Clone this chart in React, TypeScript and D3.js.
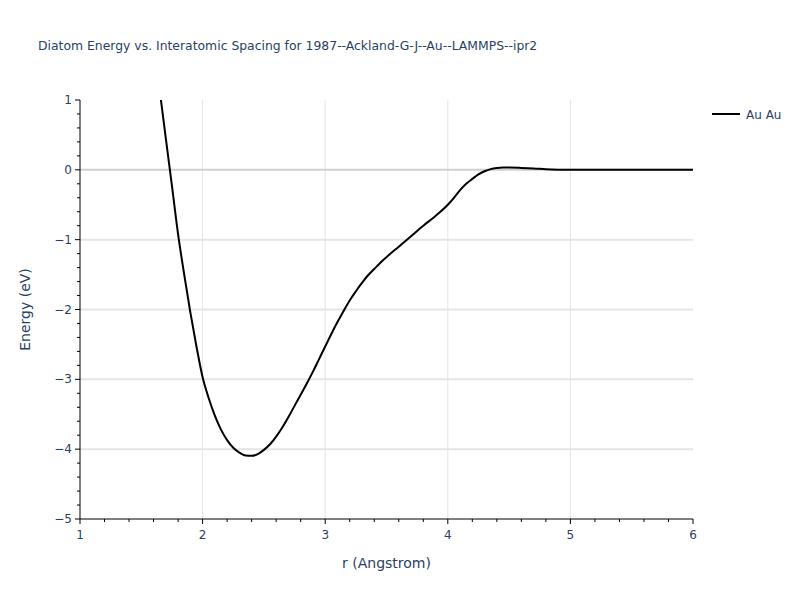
import React from 'react';
import * as d3 from 'd3';

// diatom curve
const rValues = [1.65, 1.7, 1.75, 1.8, 1.85, 1.9, 1.95, 2.0, 2.05, 2.1, 2.15, 2.2, 2.25, 2.3, 2.35, 2.4, 2.45, 2.5, 2.55, 2.6, 2.65, 2.7, 2.75, 2.8, 2.85, 2.9, 2.95, 3.0, 3.05, 3.1, 3.15, 3.2, 3.25, 3.3, 3.35, 3.4, 3.45, 3.5, 3.6, 3.7, 3.8, 3.9, 4.0, 4.05, 4.1, 4.15, 4.2, 4.25, 4.3, 4.35, 4.4, 4.45, 4.5, 4.6, 4.7, 4.8, 4.9, 5.0, 6.0];
const energyValues = [1.14, 0.45, -0.23, -0.92, -1.5, -2.04, -2.53, -2.97, -3.27, -3.52, -3.72, -3.87, -3.98, -4.05, -4.09, -4.095, -4.07, -4.01, -3.93, -3.82, -3.69, -3.54, -3.38, -3.22, -3.06, -2.89, -2.71, -2.53, -2.35, -2.18, -2.02, -1.87, -1.74, -1.62, -1.51, -1.42, -1.33, -1.25, -1.1, -0.95, -0.8, -0.66, -0.5, -0.4, -0.29, -0.2, -0.13, -0.065, -0.02, 0.01, 0.025, 0.032, 0.033, 0.028, 0.02, 0.008, 0.002, 0, 0];

const xTicks = [1, 2, 3, 4, 5, 6];
const yTicks = [-5, -4, -3, -2, -1, 0, 1];
const seriesName = 'Au Au';
const title = 'Diatom Energy vs. Interatomic Spacing for 1987--Ackland-G-J--Au--LAMMPS--ipr2';

const W = 800;
const H = 600;
const margin = {left: 80, right: 107, top: 100, bottom: 81};
const font = '"DejaVu Sans", verdana, arial, sans-serif';
const textColor = '#2a3f5f';

export default function App() {
  const x = d3.scaleLinear().domain([1, 6]).range([margin.left, W - margin.right]);
  const y = d3.scaleLinear().domain([-5, 1]).range([H - margin.bottom, margin.top]);

  const points = rValues.map((r, i) => [r, energyValues[i]] as [number, number]);
  const line = d3
    .line<[number, number]>()
    .x((d) => x(d[0]))
    .y((d) => y(d[1]))
    .curve(d3.curveMonotoneX);

  // minor ticks every 0.2
  const xMinor = d3.range(1, 6.001, 0.2).filter((v) => Math.abs(v - Math.round(v)) > 1e-6);
  const yMinor = d3.range(-5, 1.001, 0.2).filter((v) => Math.abs(v - Math.round(v)) > 1e-6);
  const fmt = d3.format('');

  const x0 = margin.left;
  const y0 = H - margin.bottom;
  const x1 = W - margin.right;

  return (
    <svg width={W} height={H} style={{display: 'block', position: 'absolute', left: 0, top: 0}} fontFamily={font}>
      <defs>
        <clipPath id="plot-clip">
          <rect x={x0} y={margin.top} width={x1 - x0} height={y0 - margin.top} />
        </clipPath>
      </defs>
      <rect width={W} height={H} fill="#fff" />
      <text x={38} y={50} fontSize={12.4} fill={textColor}>{title}</text>

      {/* grid */}
      {xTicks.filter((v) => v > 1 && v < 6).map((v) => (
        <line key={'gx' + v} x1={x(v)} x2={x(v)} y1={margin.top} y2={y0} stroke="#e5e5e5" />
      ))}
      {yTicks.filter((v) => v > -5 && v < 1 && v !== 0).map((v) => (
        <line key={'gy' + v} x1={x0} x2={x1} y1={y(v)} y2={y(v)} stroke="#e5e5e5" strokeWidth={2} />
      ))}
      <line x1={x0} x2={x1} y1={y(0)} y2={y(0)} stroke="#d0d0d0" strokeWidth={2} />

      {/* curve */}
      <path d={line(points) || ''} fill="none" stroke="#000" strokeWidth={2} clipPath="url(#plot-clip)" />

      {/* axes */}
      <line x1={x0} x2={x0} y1={margin.top} y2={y0} stroke="#000" />
      <line x1={x0} x2={x1} y1={y0} y2={y0} stroke="#000" />
      {xTicks.map((v) => (
        <g key={'xt' + v}>
          <line x1={x(v)} x2={x(v)} y1={y0} y2={y0 + 5} stroke="#000" />
          <text x={x(v)} y={y0 + 20} fontSize={12} fill={textColor} textAnchor="middle">{fmt(v)}</text>
        </g>
      ))}
      {xMinor.map((v) => (
        <line key={'xm' + v} x1={x(v)} x2={x(v)} y1={y0} y2={y0 + 3} stroke="#000" />
      ))}
      {yTicks.map((v) => (
        <g key={'yt' + v}>
          <line x1={x0 - 5} x2={x0} y1={y(v)} y2={y(v)} stroke="#000" />
          <text x={x0 - 8} y={y(v) + 4} fontSize={12} fill={textColor} textAnchor="end">{fmt(v)}</text>
        </g>
      ))}
      {yMinor.map((v) => (
        <line key={'ym' + v} x1={x0 - 3} x2={x0} y1={y(v)} y2={y(v)} stroke="#000" />
      ))}

      <text x={(x0 + x1) / 2} y={568} fontSize={14} fill={textColor} textAnchor="middle">r (Angstrom)</text>
      <text transform={`translate(30, ${(margin.top + y0) / 2}) rotate(-90)`} fontSize={14} fill={textColor} textAnchor="middle">Energy (eV)</text>

      {/* legend */}
      <line x1={712} x2={740} y1={114} y2={114} stroke="#000" strokeWidth={2} />
      <text x={746} y={118.5} fontSize={12} fill={textColor}>{seriesName}</text>
    </svg>
  );
}
